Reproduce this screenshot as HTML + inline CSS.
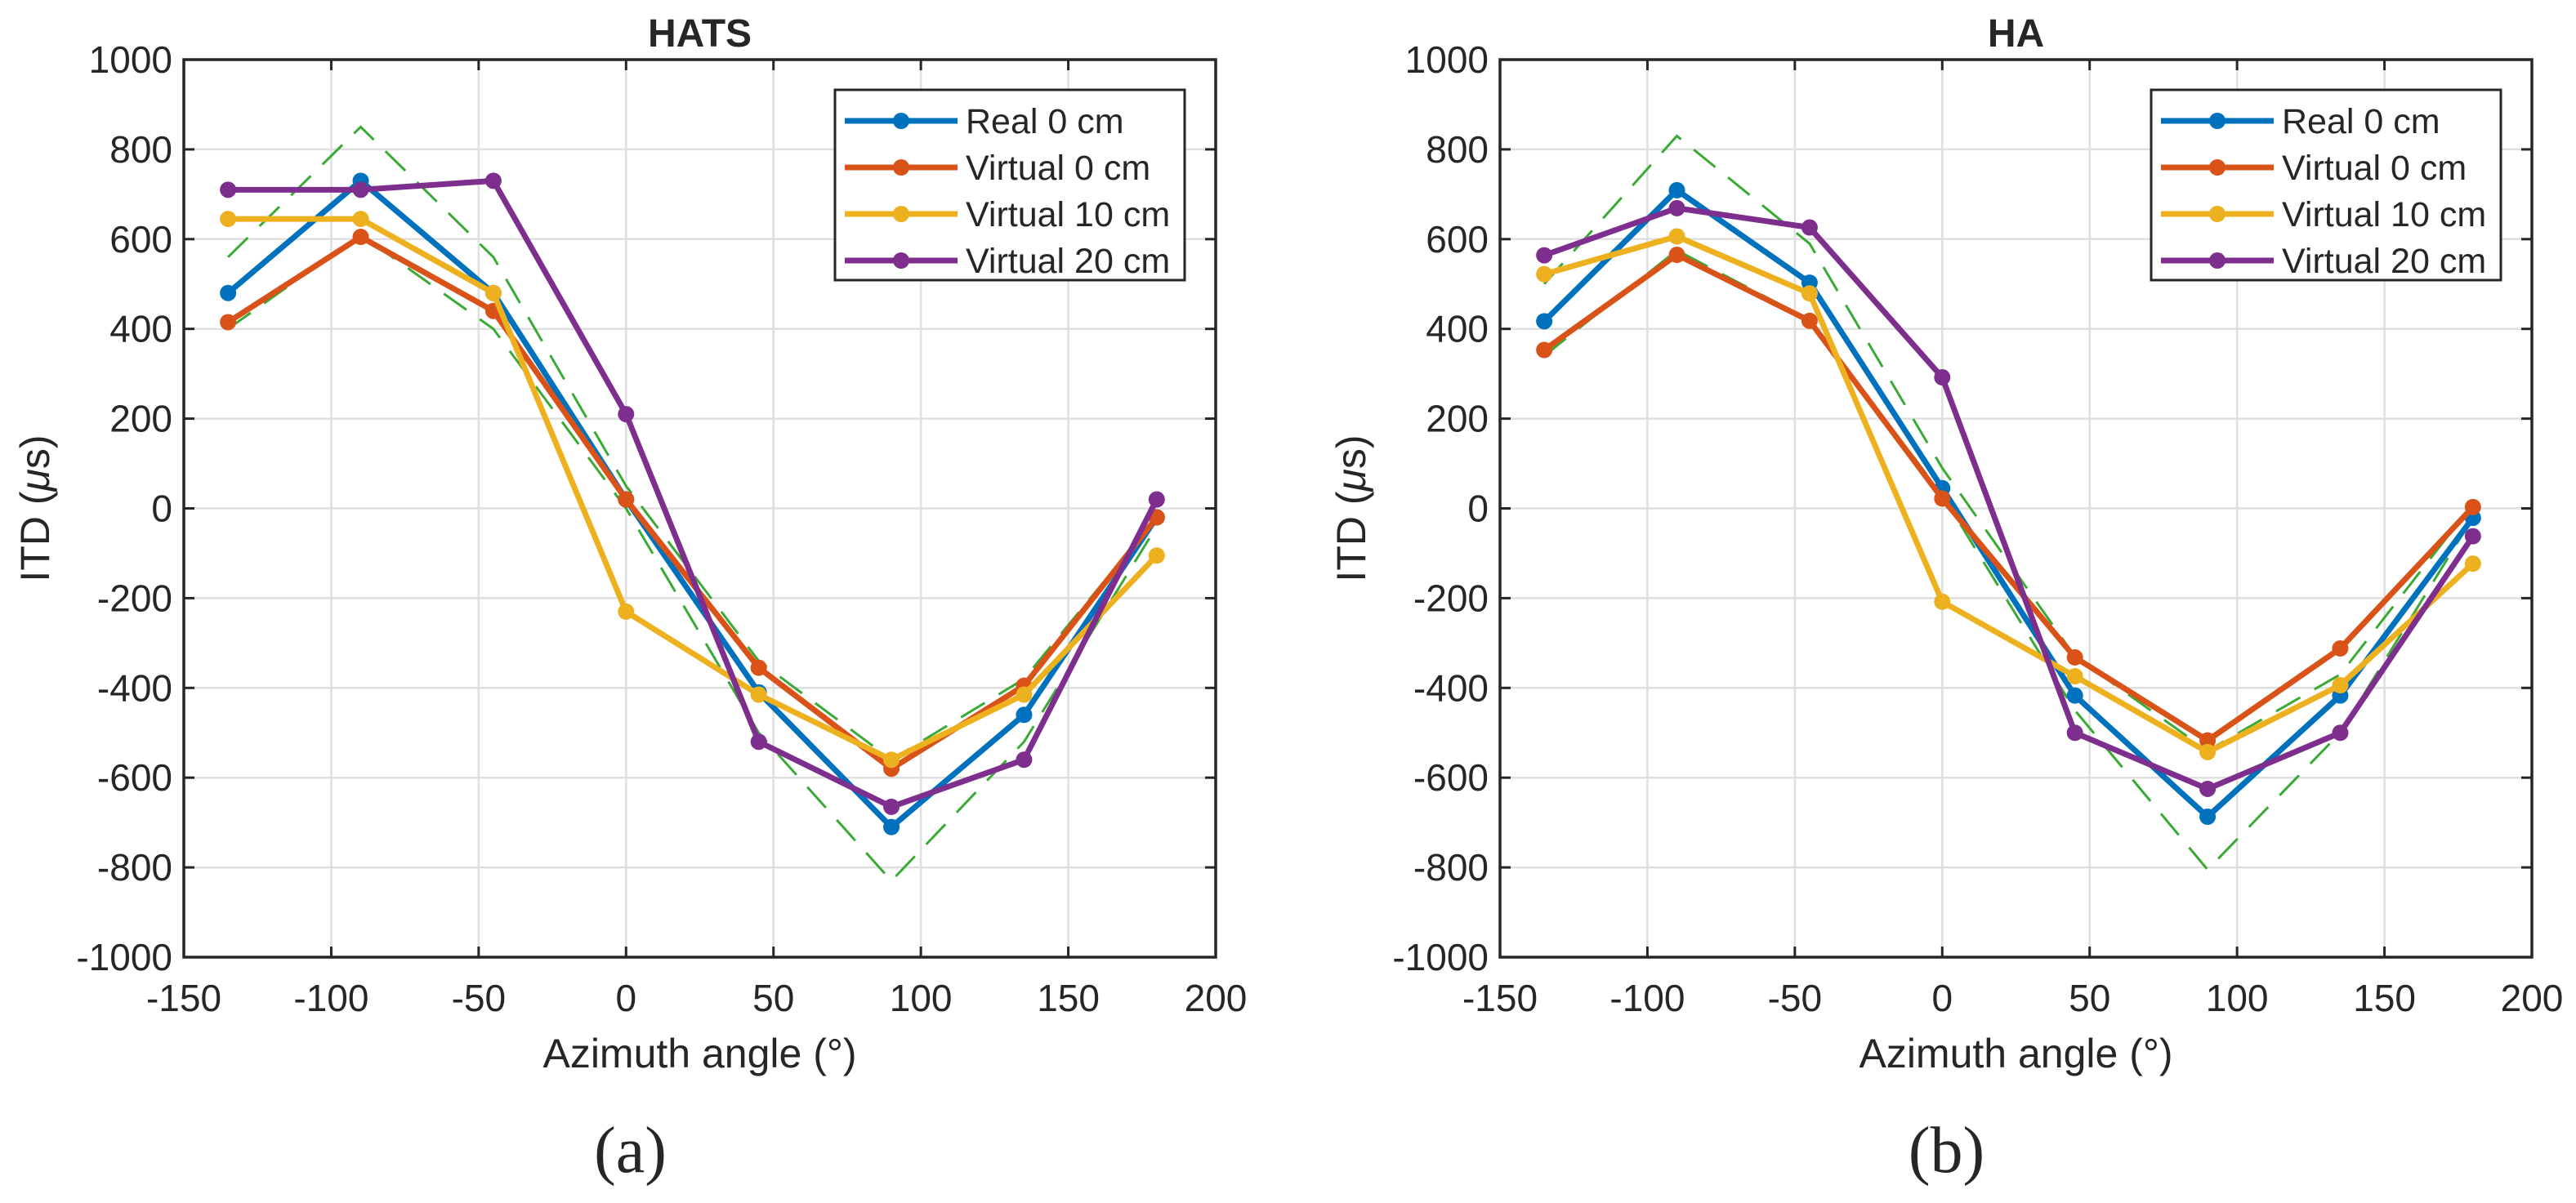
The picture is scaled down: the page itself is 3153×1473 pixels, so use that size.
<!DOCTYPE html>
<html><head><meta charset="utf-8"><style>
html,body{margin:0;padding:0;background:#fff}
svg{display:block}
text{font-family:"Liberation Sans",Arial,sans-serif;fill:#262626}
</style></head><body>
<svg id="fig" width="3153" height="1473" viewBox="0 0 3153 1473" xmlns="http://www.w3.org/2000/svg"></svg>
<script>
const azimuths = [-135, -90, -45, 0, 45, 90, 135, 180];
const xTicks = [-150, -100, -50, 0, 50, 100, 150, 200];
const yTicks = [-1000, -800, -600, -400, -200, 0, 200, 400, 600, 800, 1000];
const seriesNames = ["Real 0 cm", "Virtual 0 cm", "Virtual 10 cm", "Virtual 20 cm"];
const hatsReal = [480, 730, 480, 20, -410, -710, -460, -20];
const hatsV0 = [415, 605, 440, 20, -355, -580, -395, -20];
const hatsV10 = [645, 645, 480, -230, -415, -560, -415, -105];
const hatsV20 = [710, 710, 730, 210, -520, -665, -560, 20];
const hatsUpper = [560, 850, 560, 50, -340, -560, -380, -20];
const hatsLower = [400, 610, 400, 0, -500, -830, -520, -40];
const haReal = [417, 709, 503, 45, -417, -687, -417, -21];
const haV0 = [353, 565, 418, 22, -332, -517, -312, 3];
const haV10 = [522, 606, 479, -208, -374, -543, -394, -123];
const haV20 = [564, 669, 626, 292, -500, -625, -500, -62];
const haUpper = [500, 830, 590, 90, -330, -540, -370, 10];
const haLower = [340, 575, 420, 30, -450, -805, -500, -20];

const colors = ["#0072BD", "#D95319", "#EDB120", "#7E2F8E"];
const NS = "http://www.w3.org/2000/svg";
const svg = document.getElementById("fig");
function el(tag, attrs, parent) {
  const e = document.createElementNS(NS, tag);
  for (const k in attrs) e.setAttribute(k, attrs[k]);
  (parent || svg).appendChild(e);
  return e;
}

function drawPanel(cfg) {
  const L = cfg.left, R = cfg.left + 1263, T = 73, B = 1172;
  const sx = v => L + (v - (-150)) / 350 * (R - L);
  const sy = v => B - (v - (-1000)) / 2000 * (B - T);
  const g = el("g", {});
  
  
  xTicks.forEach(t => {
    const l = el("line", {x1: sx(t), x2: sx(t), y1: T, y2: B, stroke: "#dfdfdf", "stroke-width": 2.5}, g);
    
    
  });
  yTicks.forEach(t => {
    const l = el("line", {x1: L, x2: R, y1: sy(t), y2: sy(t), stroke: "#dfdfdf", "stroke-width": 2.5}, g);
    
    
  });
  [cfg.upper, cfg.lower].forEach((arr, i) => {
    const p = el("polyline", {points: azimuths.map((a, j) => sx(a) + "," + sy(arr[j])).join(" "),
      fill: "none", stroke: "#3aaa35", "stroke-width": 3, "stroke-dasharray": "34,20"}, g);
    
    
  });
  cfg.series.forEach((arr, i) => {
    const p = el("polyline", {points: azimuths.map((a, j) => sx(a) + "," + sy(arr[j])).join(" "),
      fill: "none", stroke: colors[i], "stroke-width": 7, "stroke-linejoin": "round"}, g);
    
    
    azimuths.forEach((a, j) => {
      const c = el("circle", {cx: sx(a), cy: sy(arr[j]), r: 10, fill: colors[i]}, g);
      
      
    });
  });
  const box = el("rect", {x: L, y: T, width: R - L, height: B - T, fill: "none", stroke: "#262626", "stroke-width": 3.5}, g);
  
  
  xTicks.forEach(t => {
    el("line", {x1: sx(t), x2: sx(t), y1: B, y2: B - 13, stroke: "#262626", "stroke-width": 3}, g);
    el("line", {x1: sx(t), x2: sx(t), y1: T, y2: T + 13, stroke: "#262626", "stroke-width": 3}, g);
    const tx = el("text", {x: sx(t), y: B + 66, "font-size": 46, "text-anchor": "middle"}, g);
    tx.textContent = t;
    
    
  });
  yTicks.forEach(t => {
    el("line", {x1: L, x2: L + 13, y1: sy(t), y2: sy(t), stroke: "#262626", "stroke-width": 3}, g);
    el("line", {x1: R, x2: R - 13, y1: sy(t), y2: sy(t), stroke: "#262626", "stroke-width": 3}, g);
    const tx = el("text", {x: L - 14, y: sy(t) + 16, "font-size": 46, "text-anchor": "end"}, g);
    tx.textContent = t;
    
    
  });
  const ti = el("text", {x: (L + R) / 2, y: 57, "font-size": 48, "font-weight": "bold", "text-anchor": "middle", fill: "#000"}, g);
  ti.textContent = cfg.title;
  
  
  const xl = el("text", {x: (L + R) / 2, y: 1307, "font-size": 50, "text-anchor": "middle"}, g);
  xl.textContent = "Azimuth angle (°)";
  
  
  const yl = el("text", {x: 0, y: 0, "font-size": 50, "text-anchor": "middle", transform: `translate(${L - 165},${(T + B) / 2}) rotate(-90)`}, g);
  yl.innerHTML = 'ITD (<tspan font-style="italic">μ</tspan>s)';
  
  
  const sub = el("text", {x: (L + R) / 2 - 85, y: 1435, "font-size": 80, "text-anchor": "middle", fill: "#000", style: 'font-family:"Liberation Serif",serif'}, g);
  sub.textContent = cfg.sub;
  
  
  const lx = L + 797, ly = 110, lw = 428, lh = 233;
  const lg = el("g", {}, g);
  
  
  el("rect", {x: lx, y: ly, width: lw, height: lh, fill: "#fff", stroke: "#262626", "stroke-width": 3}, lg);
  seriesNames.forEach((n, i) => {
    const yy = ly + 38 + i * 57;
    const e = el("g", {}, lg);
    
    
    el("line", {x1: lx + 12, x2: lx + 150, y1: yy, y2: yy, stroke: colors[i], "stroke-width": 7}, e);
    el("circle", {cx: lx + 81, cy: yy, r: 10, fill: colors[i]}, e);
    const t = el("text", {x: lx + 160, y: yy + 15, "font-size": 43, fill: "#000"}, e);
    t.textContent = n;
  });
}

drawPanel({name: "hats", left: 225, title: "HATS", sub: "(a)",
  series: [hatsReal, hatsV0, hatsV10, hatsV20], upper: hatsUpper, lower: hatsLower});
drawPanel({name: "ha", left: 1836, title: "HA", sub: "(b)",
  series: [haReal, haV0, haV10, haV20], upper: haUpper, lower: haLower});
</script>
</body></html>
